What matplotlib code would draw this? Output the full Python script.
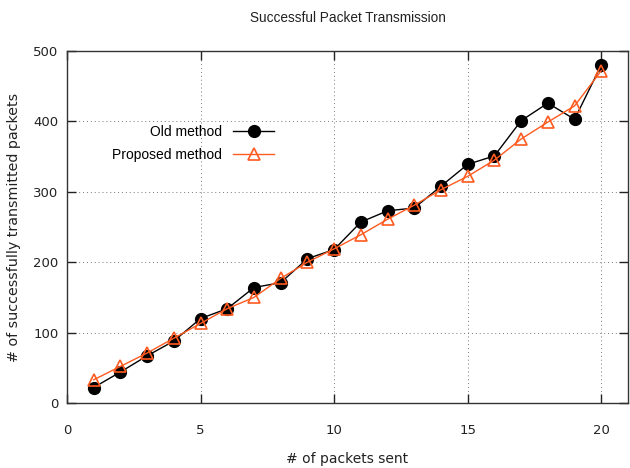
import matplotlib
matplotlib.use('Agg')
import matplotlib.pyplot as plt

plt.rcParams['font.family'] = ['DejaVu Sans']

# Data
packets_sent = [1, 2, 3, 4, 5, 6, 7, 8, 9, 10, 11, 12, 13, 14, 15, 16, 17, 18, 19, 20]
old_method = [22, 44, 67, 88, 120, 134, 164, 171, 205, 218, 257, 273, 277, 308, 339, 351, 401, 426, 403, 480]
proposed_method = [33, 52, 71, 92, 113, 134, 150, 177, 200, 219, 239, 261, 281, 303, 322, 345, 375, 399, 422, 472]

x_ticks = [0, 5, 10, 15, 20]
y_ticks = [0, 100, 200, 300, 400, 500]

fig = plt.figure(figsize=(6.3, 4.68), dpi=100)
ax = fig.add_axes([0.1063, 0.1389, 0.8905, 0.7521])

orange = '#ff5a1f'
ax.plot(packets_sent, old_method, color='black', linewidth=1.0, marker='o',
        markersize=8.5, markerfacecolor='black', label='Old method', zorder=3)
ax.plot(packets_sent, proposed_method, color=orange, linewidth=1.0, marker='^',
        markersize=8, markerfacecolor='none', markeredgecolor=orange,
        markeredgewidth=1.2, label='Proposed method', zorder=4)

ax.set_xlim(0, 21)
ax.set_ylim(0, 500)
ax.set_xticks(x_ticks)
ax.set_yticks(y_ticks)
ax.tick_params(direction='in', length=6.5, width=1, top=True, right=True,
               labelsize=9.5, colors='#222222')
ax.tick_params(axis='x', pad=15)
ax.tick_params(axis='y', pad=6)
ax.grid(True, linestyle=(0, (1, 3)), color='#777777', linewidth=0.7)
ax.set_axisbelow(True)
for s in ax.spines.values():
    s.set_linewidth(1.0)
    s.set_color('#333333')

title_font = ['Liberation Sans', 'DejaVu Sans']
ax.set_title('Successful Packet Transmission', fontsize=9.8, family=title_font,
             pad=21, color='#222222')
ax.set_xlabel('# of packets sent', fontsize=10, labelpad=11, color='#222222')
ax.set_ylabel('# of successfully transmitted packets', fontsize=10.3, labelpad=9,
              color='#222222')

leg = ax.legend(loc='upper right', bbox_to_anchor=(0.392, 0.825), frameon=False,
                markerfirst=False, handlelength=3.0,
                prop={'family': title_font, 'size': 10},
                labelspacing=0.65, handletextpad=0.8)

fig.savefig('out.png', dpi=100)
